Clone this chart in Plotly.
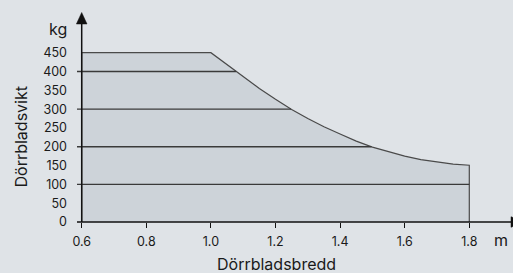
import numpy as np
import plotly.graph_objects as go

# Data
width_m = [0.6, 1.0, 1.05, 1.1, 1.15, 1.2, 1.25, 1.3, 1.35, 1.4, 1.45, 1.5,
           1.55, 1.6, 1.65, 1.7, 1.75, 1.8]
weight_kg = [450, 450, 418, 386, 355, 326, 299, 275, 253, 234, 215, 199,
             186, 175, 166, 159, 154, 151]
grid_levels = [100, 200, 300, 400]
x_ticks = [0.6, 0.8, 1.0, 1.2, 1.4, 1.6, 1.8]
x_tick_text = ["0.6", "0.8", "1.0", "1.2", "1.4", "1.6", "1.8"]
y_ticks = [0, 50, 100, 150, 200, 250, 300, 350, 400, 450]

BG = "#dfe3e7"
FILL = "#cdd3d9"
LINE = "#4a4a4a"
FONT = "Inter"
TXT = "#1a1a1a"

W, H = 513, 273
L, R, T, B = 77, 0, 10, 51
pw, ph = W - L - R, H - T - B
x0_px = 81.7
px_per_x = 323.0
px_per_y = 0.3762
x_range = [0.6 - (x0_px - L) / px_per_x, 0.6 + (W - x0_px) / px_per_x]
y_range = [0, ph / px_per_y]

fig = go.Figure()

# filled region
fig.add_trace(go.Scatter(
    x=[width_m[0]] + width_m + [width_m[-1]],
    y=[0] + weight_kg + [0],
    fill="toself", fillcolor=FILL, mode="lines",
    line=dict(color=LINE, width=1.2), hoverinfo="skip", showlegend=False))

# horizontal level lines up to the curve
xs = np.array(width_m[1:])
ys = np.array(weight_kg[1:])
for lv in grid_levels:
    xe = float(np.interp(lv, ys[::-1], xs[::-1]))
    fig.add_trace(go.Scatter(x=[x_range[0], xe], y=[lv, lv], mode="lines",
                             line=dict(color="#3a3a3a", width=1.4),
                             hoverinfo="skip", showlegend=False))


def px_x(px):
    return (px - L) / pw


def px_y(py):
    return (T + ph - py) / ph


AX = "#111111"
shapes = [
    # y axis line
    dict(type="line", xref="paper", yref="paper", x0=px_x(x0_px), x1=px_x(x0_px),
         y0=px_y(222), y1=px_y(22), line=dict(color=AX, width=1.5), layer="above"),
    # x axis line
    dict(type="line", xref="paper", yref="paper", x0=px_x(77), x1=px_x(514),
         y0=px_y(222), y1=px_y(222), line=dict(color=AX, width=1.5), layer="above"),
    # y arrow head
    dict(type="path", xref="paper", yref="paper", layer="above",
         path=(f"M {px_x(x0_px - 5.3)} {px_y(24)} L {px_x(x0_px)} {px_y(12.5)} "
               f"L {px_x(x0_px + 5.3)} {px_y(24)} Z"),
         fillcolor=AX, line=dict(color=AX, width=0.5)),
    # x arrow head (mostly outside the picture)
    dict(type="path", xref="paper", yref="paper", layer="above",
         path=(f"M {px_x(511)} {px_y(216.7)} L {px_x(522.5)} {px_y(222)} "
               f"L {px_x(511)} {px_y(227.3)} Z"),
         fillcolor=AX, line=dict(color=AX, width=0.5)),
]

annotations = [
    dict(x=px_x(57.5), y=px_y(29), xref="paper", yref="paper",
         text="kg", showarrow=False, font=dict(size=16, color=TXT, family=FONT),
         xanchor="center", yanchor="middle"),
    dict(x=px_x(500.5), y=px_y(240), xref="paper", yref="paper",
         text="m", showarrow=False, font=dict(size=16, color=TXT, family=FONT),
         xanchor="center", yanchor="middle"),
    dict(x=px_x(20), y=px_y(137.5), xref="paper", yref="paper",
         text="Dörrbladsvikt", textangle=-90, showarrow=False,
         font=dict(size=16, color=TXT, family=FONT),
         xanchor="center", yanchor="middle"),
    dict(x=px_x(276.5), y=px_y(263.5), xref="paper", yref="paper",
         text="Dörrbladsbredd", showarrow=False,
         font=dict(size=16, color=TXT, family=FONT),
         xanchor="center", yanchor="middle"),
]

fig.update_layout(
    width=W, height=H,
    margin=dict(l=L, r=R, t=T, b=B, pad=0),
    paper_bgcolor=BG, plot_bgcolor=BG,
    font=dict(family=FONT, size=12.5, color=TXT),
    xaxis=dict(range=x_range, tickvals=x_ticks, ticktext=x_tick_text,
               ticks="outside", ticklen=5, tickcolor=AX, tickwidth=1,
               showgrid=False, zeroline=False, showline=False,
               ticklabelstandoff=3, fixedrange=True),
    yaxis=dict(range=y_range, tickvals=y_ticks, ticks="", showgrid=False,
               zeroline=False, showline=False, ticklabelstandoff=9,
               fixedrange=True),
    shapes=shapes,
    annotations=annotations,
    showlegend=False,
)

fig.write_html(
    "out.html",
    config={"displayModeBar": False},
    post_script="document.body.style.margin='0px';document.body.style.overflow='hidden';",
)
